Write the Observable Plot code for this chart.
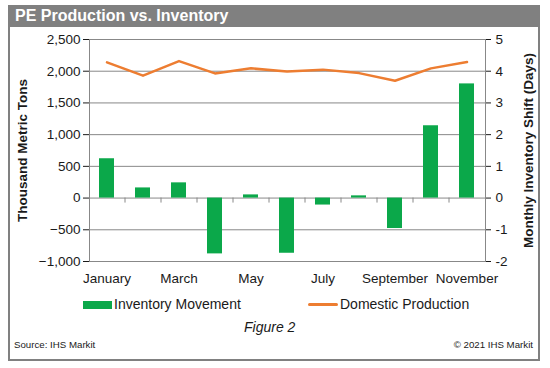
<!DOCTYPE html>
<html>
<head>
<meta charset="utf-8">
<script src="https://cdn.jsdelivr.net/npm/d3@7"></script>
<script src="https://cdn.jsdelivr.net/npm/@observablehq/plot@0.6"></script>
<style>
  html, body { margin: 0; padding: 0; background: #fff; }
  #wrap { position: relative; width: 550px; height: 368px; font-family: "Liberation Sans", Arial, sans-serif; color: #1a1a1a; }
  #wrap svg { position: absolute; left: 0; top: 0; }
  .abs { position: absolute; white-space: nowrap; }
</style>
</head>
<body>
<div id="wrap"></div>
<script>
const months = ["January","February","March","April","May","June","July","August","September","October","November"];
const inventory = [620, 160, 240, -880, 50, -870, -110, 35, -480, 1140, 1800];
const production = [2140, 1930, 2160, 1965, 2045, 1995, 2025, 1970, 1850, 2045, 2145];
const leftTicks = [-1000, -500, 0, 500, 1000, 1500, 2000, 2500];
const rightTicks = [-2, -1, 0, 1, 2, 3, 4, 5];
const labelMonths = ["January","March","May","July","September","November"];
const daysPerUnit = 500;

const data = months.map((m, i) => ({month: m, inventory: inventory[i], production: production[i]}));

const fmt = d3.format(",");
const chart = Plot.plot({
  width: 550,
  height: 368,
  marginLeft: 89,
  marginRight: 65,
  marginTop: 39,
  marginBottom: 107,
  style: {fontFamily: "Liberation Sans, Arial, sans-serif", fontSize: "13.5px", color: "#1a1a1a", background: "transparent"},
  x: {domain: months, paddingInner: 0.58, paddingOuter: 0.29},
  y: {domain: [-1000, 2500]},
  marks: [
    Plot.gridY(leftTicks, {stroke: "#888", strokeOpacity: 1}),
    Plot.frame({stroke: "#888"}),
    Plot.barY(data, {x: "month", y: "inventory", fill: "#0BA84A"}),
    Plot.ruleX(months.slice(1), {x: d => d, y1: 0, y2: 0, insetBottom: -5, dx: -18, stroke: "#888"}),
    Plot.lineY(data, {x: "month", y: "production", stroke: "#ED7D31", strokeWidth: 2.5}),
    Plot.axisY(leftTicks, {anchor: "left", tickFormat: fmt, tickSize: 6, tickPadding: 3, label: null, fontSize: 13.5}),
    Plot.axisY(rightTicks.map(d => d * daysPerUnit), {anchor: "right", tickFormat: d => String(d / daysPerUnit), tickSize: 5, tickPadding: 5, label: null, fontSize: 13.5}),
    Plot.axisX(labelMonths, {anchor: "bottom", tickSize: 0, tickPadding: 12, label: null, fontSize: 13.5}),
    Plot.text(["Thousand Metric Tons"], {frameAnchor: "left", textAnchor: "middle", lineAnchor: "middle", dx: -67, rotate: -90, fontWeight: "bold", fontSize: 13.5, fill: "#1a1a1a"}),
    Plot.text(["Monthly Inventory Shift (Days)"], {frameAnchor: "right", textAnchor: "middle", lineAnchor: "middle", dx: 43, rotate: -90, fontWeight: "bold", fontSize: 13.5, fill: "#1a1a1a"})
  ]
});

const wrap = document.getElementById("wrap");
wrap.appendChild(chart);

function add(html, css) {
  const d = document.createElement("div");
  d.className = "abs";
  d.innerHTML = html;
  Object.assign(d.style, css);
  wrap.appendChild(d);
  return d;
}
// frame
add("", {left: "8px", top: "5px", width: "532px", height: "356px", boxSizing: "border-box", border: "2px solid #808080"});
// title bar
add("PE Production vs. Inventory", {left: "8px", top: "5px", width: "532px", height: "22px", background: "#808080", color: "#fff", fontWeight: "bold", fontSize: "16px", lineHeight: "22px", paddingLeft: "7px", boxSizing: "border-box"});
// legend
add("", {left: "83px", top: "301px", width: "29px", height: "8px", background: "#0BA84A"});
add("Inventory Movement", {left: "114px", top: "296px", fontSize: "14px", lineHeight: "16px"});
add("", {left: "308px", top: "303px", width: "30px", height: "3px", background: "#ED7D31", borderRadius: "1.5px"});
add("Domestic Production", {left: "340px", top: "296px", fontSize: "14px", lineHeight: "16px"});
// figure caption
add("Figure 2", {left: "244px", top: "319px", width: "50px", textAlign: "center", fontStyle: "italic", fontSize: "14px", lineHeight: "16px"});
// source
add("Source: IHS Markit", {left: "14px", top: "339px", fontSize: "9.7px", lineHeight: "12px"});
add("© 2021 IHS Markit", {right: "17px", top: "339px", fontSize: "9.7px", lineHeight: "12px"});
</script>
</body>
</html>
